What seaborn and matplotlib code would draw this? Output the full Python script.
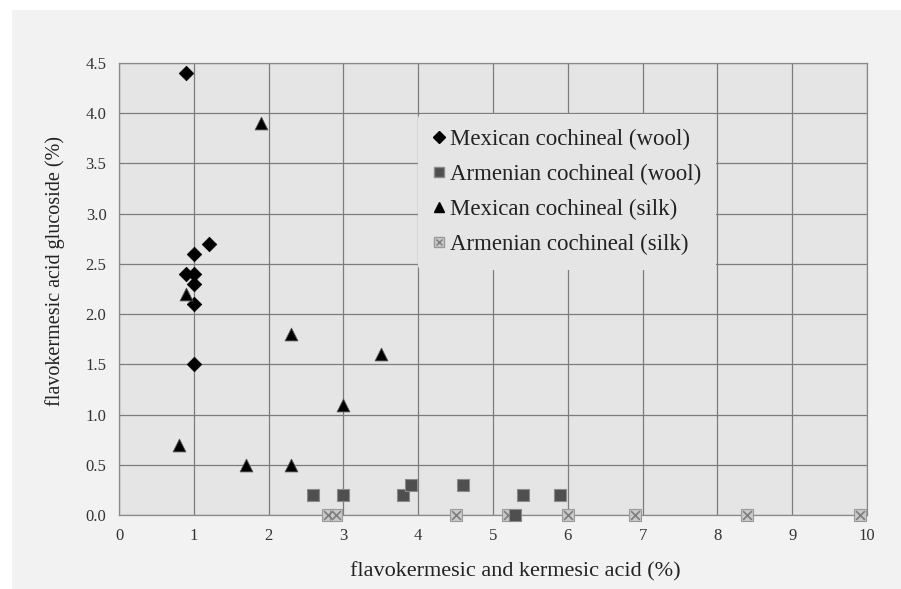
import numpy as np
import pandas as pd
import matplotlib
matplotlib.use("Agg")
import matplotlib.pyplot as plt
from matplotlib.patches import Rectangle
from matplotlib.lines import Line2D
from matplotlib.legend_handler import HandlerTuple
import seaborn as sns

# ---- data ----
mex_wool_x = [0.9, 1.2, 1.0, 0.9, 1.0, 1.0, 1.0, 1.0]
mex_wool_y = [4.4, 2.7, 2.6, 2.4, 2.4, 2.3, 2.1, 1.5]

arm_wool_x = [2.6, 3.0, 3.8, 3.9, 4.6, 5.4, 5.9, 5.3]
arm_wool_y = [0.2, 0.2, 0.2, 0.3, 0.3, 0.2, 0.2, 0.0]

mex_silk_x = [1.9, 0.9, 2.3, 3.5, 3.0, 0.8, 1.7, 2.3]
mex_silk_y = [3.9, 2.2, 1.8, 1.6, 1.1, 0.7, 0.5, 0.5]

arm_silk_x = [2.8, 2.9, 4.5, 5.2, 6.0, 6.9, 8.4, 9.9]
arm_silk_y = [0.0, 0.0, 0.0, 0.0, 0.0, 0.0, 0.0, 0.0]

series_labels = ["Mexican cochineal (wool)", "Armenian cochineal (wool)",
                 "Mexican cochineal (silk)", "Armenian cochineal (silk)"]
x_ticks = [0, 1, 2, 3, 4, 5, 6, 7, 8, 9, 10]
y_ticks = [0.0, 0.5, 1.0, 1.5, 2.0, 2.5, 3.0, 3.5, 4.0, 4.5]
x_label = "flavokermesic and kermesic acid (%)"
y_label = "flavokermesic acid glucoside (%)"

# ---- style ----
sns.set_style("white")
plt.rcParams["font.family"] = ["Liberation Serif", "DejaVu Serif"]

fig = plt.figure(figsize=(9.01, 5.89), dpi=100, facecolor="white")
fig.patches.append(Rectangle((12 / 901, 0), 1, 1 - 10 / 589, transform=fig.transFigure,
                             facecolor="#f2f2f2", edgecolor="none", zorder=-10))
ax = fig.add_axes([119 / 901, 1 - 515 / 589, 748 / 901, 452 / 589])
ax.set_facecolor("#e5e5e5")

sns.scatterplot(x=mex_wool_x, y=mex_wool_y, marker="D", s=55, color="black",
                edgecolor="black", linewidth=0.5, ax=ax, zorder=4, clip_on=False)
sns.scatterplot(x=arm_silk_x, y=arm_silk_y, marker="s", s=70, color="#c9c9c9",
                edgecolor="#9a9a9a", linewidth=0.8, ax=ax, zorder=4, clip_on=False)
sns.scatterplot(x=arm_silk_x, y=arm_silk_y, marker="x", s=40, color="#7d7d7d",
                linewidth=1.2, ax=ax, zorder=4, clip_on=False)
sns.scatterplot(x=arm_wool_x, y=arm_wool_y, marker="s", s=70, color="#4f4f4f",
                edgecolor="#8a8a8a", linewidth=0.8, ax=ax, zorder=5, clip_on=False)
sns.scatterplot(x=mex_silk_x, y=mex_silk_y, marker="^", s=85, color="black",
                edgecolor="#555555", linewidth=0.6, ax=ax, zorder=5, clip_on=False)

ax.set_xlim(0, 10)
ax.set_ylim(0, 4.5)
ax.set_xticks(x_ticks)
ax.set_xticklabels([str(t) for t in x_ticks])
ax.set_yticks(y_ticks)
ax.set_yticklabels([f"{t:.1f}" for t in y_ticks])
ax.tick_params(axis="both", direction="out", length=5, width=0.9, color="#8a8a8a",
               labelsize=12, labelcolor="#333333", pad=4)
ax.grid(True, color="#7c7c7c", linewidth=0.9)
ax.set_axisbelow(True)
for side in ["left", "bottom", "top", "right"]:
    ax.spines[side].set_color("#8a8a8a")
    ax.spines[side].set_linewidth(0.9)

ax.set_xlabel(x_label, fontsize=16, color="#222222")
ax.set_ylabel(y_label, fontsize=14.5, color="#222222")
ax.xaxis.set_label_coords(0.53, -0.104)
ax.yaxis.set_label_coords(-0.072, 0.54)

# ---- legend ----
hd = Line2D([], [], marker="D", ls="none", color="black", markersize=6)
hs = Line2D([], [], marker="s", ls="none", markerfacecolor="#4f4f4f",
            markeredgecolor="#8a8a8a", markersize=7)
ht = Line2D([], [], marker="^", ls="none", color="black", markersize=7.5)
hx1 = Line2D([], [], marker="s", ls="none", markerfacecolor="#c9c9c9",
             markeredgecolor="#9a9a9a", markersize=7)
hx2 = Line2D([], [], marker="x", ls="none", color="#7d7d7d", markersize=5, mew=1.0)
leg = ax.legend([hd, hs, ht, (hx1, hx2)], series_labels,
                handler_map={tuple: HandlerTuple(ndivide=1, pad=0)},
                loc="upper left", bbox_to_anchor=(0.400, 0.887), fontsize=16.5,
                frameon=True, facecolor="#e5e5e5", edgecolor="none", framealpha=1,
                handlelength=0.5, handletextpad=0.25, labelspacing=0.6,
                borderpad=0.65, borderaxespad=0)
for t in leg.get_texts():
    t.set_color("#222222")

fig.savefig("out.png", dpi=100, facecolor=fig.get_facecolor())
